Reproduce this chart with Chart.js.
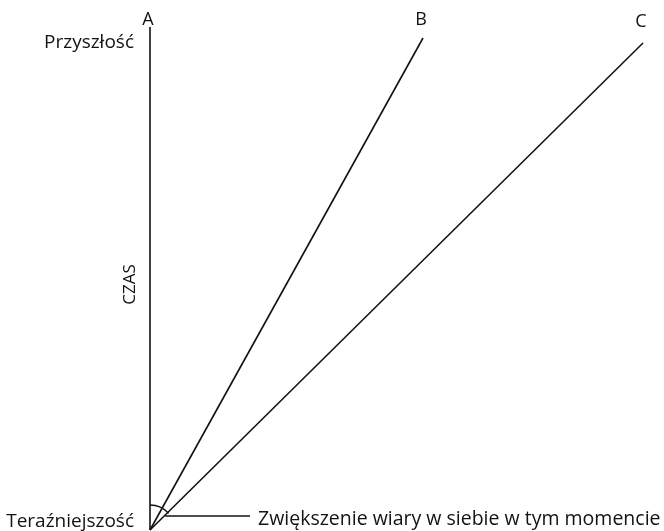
<!DOCTYPE html>
<html>
<head>
<meta charset="utf-8">
<script src="https://cdn.jsdelivr.net/npm/chart.js@4/dist/chart.umd.min.js"></script>
<style>
html,body{margin:0;padding:0;background:#fff;}
#wrap{width:664px;height:531px;position:relative;}
canvas{display:block;}
</style>
</head>
<body>
<div id="wrap"><canvas id="c" width="664" height="531"></canvas></div>
<script>
// Data: x = growth of self-confidence, y = time (CZAS)
const lineNames = ['A', 'B', 'C'];
const origin = {x: 0, y: 0};
const lineEnds = [
  {x: 0,   y: 503},
  {x: 273, y: 492},
  {x: 493, y: 487}
];
const timeLabels = ['Teraźniejszość', 'Przyszłość'];
const axisTitle = 'CZAS';
const noteText = 'Zwiększenie wiary w siebie w tym momencie';
const noteLevel = 14;   // time value where the note points
const noteEndX = 100;   // x value where the note's leader line ends

const ink = '#141213';
const FONT = '"Open Sans", "Liberation Sans", sans-serif';

const datasets = lineNames.map((n, i) => ({
  label: n,
  data: [origin, lineEnds[i]],
  borderColor: ink,
  borderWidth: 1.6,
  pointRadius: 0,
  showLine: true,
  fill: false
}));

const decor = {
  id: 'decor',
  afterDatasetsDraw(chart) {
    const ctx = chart.ctx, sx = chart.scales.x, sy = chart.scales.y;
    const ox = sx.getPixelForValue(origin.x), oy = sy.getPixelForValue(origin.y);
    ctx.save();
    ctx.fillStyle = ink;
    ctx.strokeStyle = ink;
    // line letters
    ctx.font = '500 18px ' + FONT;
    ctx.textAlign = 'center';
    ctx.textBaseline = 'alphabetic';
    const letterBase = [25, 25, 27];
    lineNames.forEach((n, i) => {
      const px = sx.getPixelForValue(lineEnds[i].x);
      ctx.fillText(n, px - 2, letterBase[i]);
    });
    // time labels
    ctx.font = '500 19px ' + FONT;
    ctx.textAlign = 'right';
    const topY = sy.getPixelForValue(lineEnds[0].y);
    ctx.fillText(timeLabels[1], ox - 16, topY + 21);
    ctx.fillText(timeLabels[0], ox - 16, oy - 3);
    // axis title rotated
    ctx.save();
    ctx.translate(ox - 15, (topY + oy) / 2 + 6);
    ctx.rotate(-Math.PI / 2);
    ctx.textAlign = 'center';
    ctx.font = '500 17px ' + FONT;
    ctx.fillText(axisTitle, 0, 0);
    ctx.restore();
    // angle arc between A and C
    const cEnd = lineEnds[2];
    const ang = Math.atan2(sy.getPixelForValue(cEnd.y) - oy, sx.getPixelForValue(cEnd.x) - ox);
    ctx.lineWidth = 1.3;
    ctx.beginPath();
    ctx.arc(ox, oy, 25, -Math.PI / 2, ang + 0.05);
    ctx.stroke();
    // leader line for note
    const ny = sy.getPixelForValue(noteLevel);
    const startX = sx.getPixelForValue(cEnd.x * noteLevel / cEnd.y) + 1;
    const endX = sx.getPixelForValue(noteEndX);
    ctx.lineWidth = 1.6;
    ctx.beginPath();
    ctx.moveTo(startX, ny);
    ctx.lineTo(endX, ny);
    ctx.stroke();
    ctx.textAlign = 'left';
    ctx.font = '500 19.5px ' + FONT;
    ctx.fillText(noteText, endX + 8, ny + 9);
    ctx.restore();
  }
};

new Chart(document.getElementById('c'), {
  type: 'scatter',
  data: {datasets},
  options: {
    responsive: false,
    animation: false,
    layout: {padding: 0},
    plugins: {legend: {display: false}, tooltip: {enabled: false}},
    scales: {
      x: {type: 'linear', min: -150, max: 514, display: false},
      y: {type: 'linear', min: -1, max: 530, display: false}
    }
  },
  plugins: [decor]
});
</script>
</body>
</html>
